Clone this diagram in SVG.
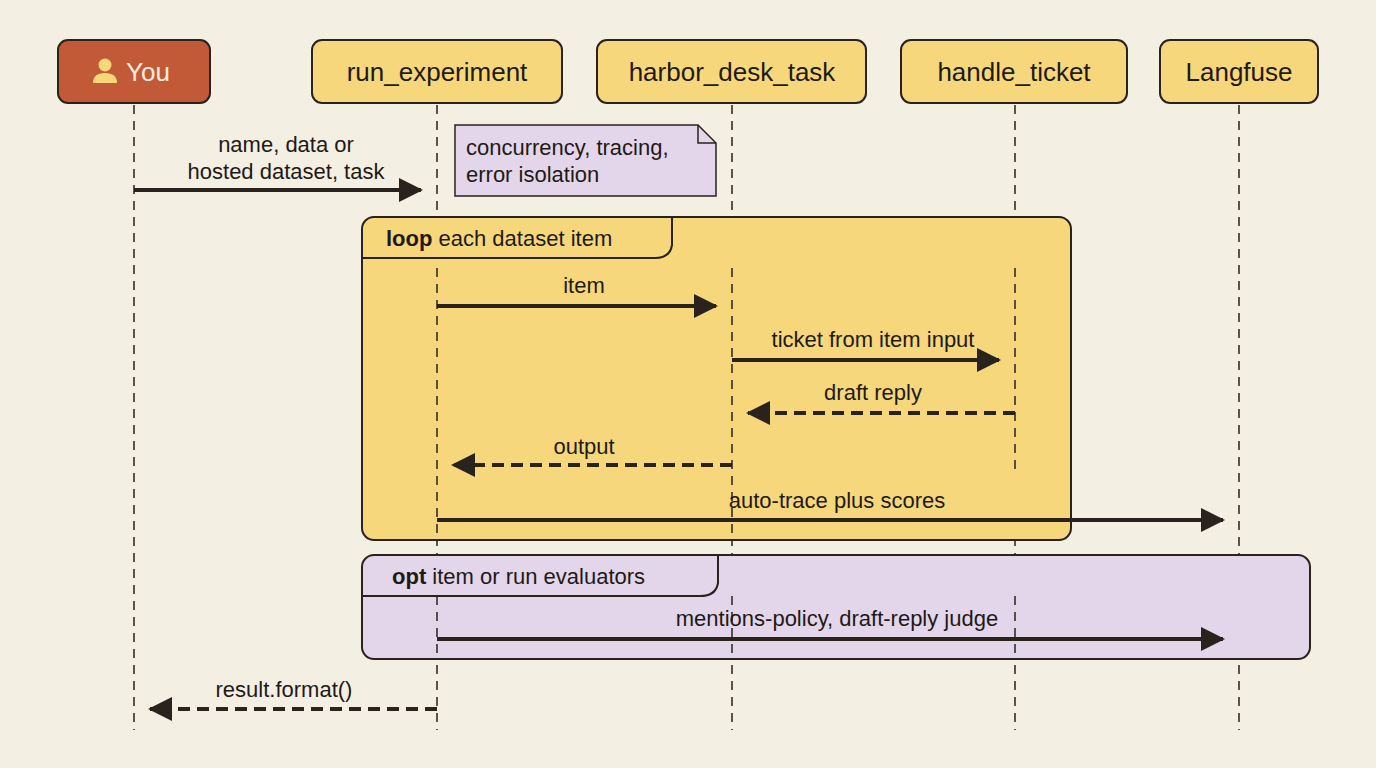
<svg xmlns="http://www.w3.org/2000/svg" width="1376" height="768" viewBox="0 0 1376 768">
<defs>
<style>
text{font-family:"Liberation Sans",Arial,sans-serif;fill:#1f1a16}
.box{fill:#f6d77c;stroke:#2a221c;stroke-width:2}
.lbl{font-size:26px;text-anchor:middle}
.life{stroke:#2a221c;stroke-width:1.5;stroke-dasharray:9 7;fill:none}
.msg{stroke:#2a221c;stroke-width:4;fill:none}
.ret{stroke:#2a221c;stroke-width:4;fill:none;stroke-dasharray:12 7}
.ml{font-size:22px;text-anchor:middle}
</style>
<marker id="ah" markerWidth="6" markerHeight="6" refX="5.5" refY="3" orient="auto" markerUnits="strokeWidth" viewBox="0 0 6 6"><path d="M0,0 L6,3 L0,6 Z" fill="#2a221c"/></marker>
</defs>
<rect width="1376" height="768" fill="#f3efe3"/>
<g id="lifelines">
<path class="life" d="M134,105V730M437,105V730M732,105V730M1015,105V730M1239,105V730"/>
</g>
<g id="loop">
<rect x="362" y="217" width="709" height="323" rx="12" fill="#f6d77c" stroke="#2a221c" stroke-width="2"/>
<path d="M362,258H655Q670,258 672,245V217" fill="none" stroke="#2a221c" stroke-width="2"/>
<text x="386" y="246" font-size="22"><tspan font-weight="bold">loop</tspan> each dataset item</text>
<path class="life" d="M437,268V540M732,268V540M1015,268V470"/>
</g>
<g id="opt">
<rect x="362" y="555" width="948" height="104" rx="12" fill="#e3d6ea" stroke="#2a221c" stroke-width="2"/>
<path d="M362,596H700Q716,596 718,583V555" fill="none" stroke="#2a221c" stroke-width="2"/>
<text x="392" y="584" font-size="22"><tspan font-weight="bold">opt</tspan> item or run evaluators</text>
<path class="life" d="M437,596V659M732,596V659M1015,596V659"/>
</g>
<g id="note">
<path d="M455,125H698L716,143V196H455Z" fill="#e3d6ea" stroke="#2a221c" stroke-width="1.5"/>
<path d="M698,125V143H716" fill="none" stroke="#2a221c" stroke-width="1.5"/>
<text x="466" y="155" font-size="22">concurrency, tracing,</text>
<text x="466" y="182" font-size="22">error isolation</text>
</g>
<g id="you">
<rect x="58" y="40" width="152" height="63" rx="10" fill="#c25a38" stroke="#2a221c" stroke-width="2"/>
<circle cx="105" cy="65" r="6.5" fill="#f6d77c"/>
<path d="M93,83Q93,73 105,73Q117,73 117,83Z" fill="#f6d77c"/>
<text x="126" y="81" font-size="26" fill="#fbeede" style="fill:#fbeede">You</text>
</g>
<g id="run_experiment"><rect class="box" x="312" y="40" width="250" height="63" rx="10"/><text class="lbl" x="437" y="81">run_experiment</text></g>
<g id="harbor_desk_task"><rect class="box" x="597" y="40" width="269" height="63" rx="10"/><text class="lbl" x="732" y="81">harbor_desk_task</text></g>
<g id="handle_ticket"><rect class="box" x="901" y="40" width="226" height="63" rx="10"/><text class="lbl" x="1014" y="81">handle_ticket</text></g>
<g id="langfuse"><rect class="box" x="1160" y="40" width="158" height="63" rx="10"/><text class="lbl" x="1239" y="81">Langfuse</text></g>
<g id="connectors">
<path class="msg" d="M134,190H421" marker-end="url(#ah)"/>
<text class="ml" x="286" y="152">name, data or</text>
<text class="ml" x="286" y="179">hosted dataset, task</text>
<path class="msg" d="M437,306H716" marker-end="url(#ah)"/>
<text class="ml" x="584" y="293">item</text>
<path class="msg" d="M732,360H999" marker-end="url(#ah)"/>
<text class="ml" x="873" y="347">ticket from item input</text>
<path class="ret" d="M1015,413H748" marker-end="url(#ah)"/>
<text class="ml" x="873" y="400">draft reply</text>
<path class="ret" d="M732,465H453" marker-end="url(#ah)"/>
<text class="ml" x="584" y="454">output</text>
<path class="msg" d="M437,520H1223" marker-end="url(#ah)"/>
<text class="ml" x="837" y="508">auto-trace plus scores</text>
<path class="msg" d="M437,639H1223" marker-end="url(#ah)"/>
<text class="ml" x="837" y="626">mentions-policy, draft-reply judge</text>
<path class="ret" d="M437,709H150" marker-end="url(#ah)"/>
<text class="ml" x="284" y="697">result.format()</text>
</g>
</svg>
